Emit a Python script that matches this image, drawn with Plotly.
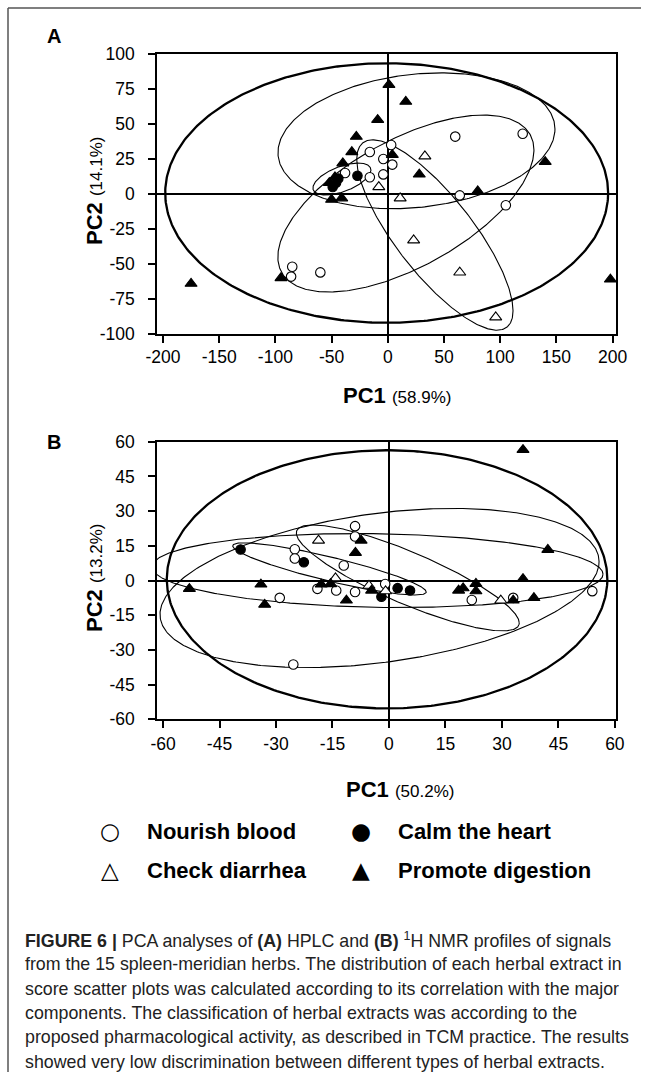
import numpy as np
import plotly.graph_objects as go

# canvas kept narrow enough to sit inside the viewport next to its scrollbar
W, H = 641, 1078
FONT = "Liberation Sans, Arial, sans-serif"

# ---------------- Panel A: HPLC score plot ----------------
a_nourish_x = [60, 120, 3, -4, 4, -4, -16, -16, 64, 105, -60, -85, -86, -38]
a_nourish_y = [41, 43, 35, 25, 21, 14, 30, 12, -1, -8, -56, -52, -59, 15]
a_calm_x = [-27, -49, -46, -44]
a_calm_y = [13, 5, 8, 11]
a_check_x = [33, -8, 11, 23, 64, 96]
a_check_y = [27, 5, -3, -33, -56, -88]
a_promote_x = [1, 16, -9, -28, -32, -40, 140, 28, 4, 80, 198, -50, -41, -95, -175, -47, -52]
a_promote_y = [78, 66, 53, 41, 30, 22, 23, 14, 28, 2, -61, -4, -3, -60, -64, 12, 8]

# confidence ellipses: overall, promote, nourish, check, calm
# x = cx + rx*cos(t), y = cy + ry*cos(t - phase)
a_ell_cx = [-1, 25.5, 16.1, 41.9, -40.8]
a_ell_cy = [0.7, 38, -6.8, -29.3, 10.7]
a_ell_rx = [197, 123.2, 113.9, 69.5, 25.8]
a_ell_ry = [92.7, 48.5, 63.2, 68.0, 11.4]
a_ell_phase = [90, 80, 52.8, 142.7, 56]

a_xticks = [-200, -150, -100, -50, 0, 50, 100, 150, 200]
a_yticks = [-100, -75, -50, -25, 0, 25, 50, 75, 100]

# ---------------- Panel B: 1H NMR score plot ----------------
b_nourish_x = [-25, -25, -9, -9, -12, -29, -19, -14, -9, -1, 22, 33, 54, -25.4]
b_nourish_y = [13.5, 9.5, 23.5, 19, 6.5, -7.5, -3.6, -4.3, -5, -1.5, -8.4, -7.5, -4.6, -36.3]
b_calm_x = [-39.4, -22.6, 2.3, 5.6, -2.0]
b_calm_y = [13.4, 7.9, -3.3, -4.3, -7.0]
b_check_x = [-18.7, -14.2, -5.3, -0.9, 29.7]
b_check_y = [17.3, 1.0, -2.2, -4.6, -8.6]
b_promote_x = [35.6, 42.2, 35.6, -53, -34, -33, -18, -15.5, -7.4, -8.9, -4.6, -11.3,
               18.5, 19.7, 23.1, 23.1, 33, 38.5]
b_promote_y = [56.5, 13.3, 0.7, -3.6, -1.7, -10.4, -1.7, -1.5, 17.3, 12, -4.3, -8.6,
               -4.3, -3.3, -1.4, -4.6, -8.6, -7.5]

# overall, nourish, promote, check, calm
b_ell_cx = [-0.5, -2.5, -3.05, 5.0, -15.8]
b_ell_cy = [0.5, -3.24, 4.3, 1.1, 5.0]
b_ell_rx = [58.5, 58.3, 59.9, 29.6, 25.7]
b_ell_ry = [55.8, 34.4, 16.0, 22.9, 11.3]
b_ell_phase = [90, 70.6, 95.7, 148.1, 151.9]

b_xticks = [-60, -45, -30, -15, 0, 15, 30, 45, 60]
b_yticks = [-60, -45, -30, -15, 0, 15, 30, 45, 60]

ell_widths = [2.3, 1.1, 1.1, 1.1, 1.1]

groups = ["Nourish blood", "Calm the heart", "Check diarrhea", "Promote digestion"]
symbols = ["circle", "circle", "triangle-up", "triangle-up"]
sizes = [9.5, 9.5, 10.5, 10.5]
fills = ["white", "black", "white", "black"]


def ellipse(cx, cy, rx, ry, phase_deg, n=400):
    t = np.linspace(0, 2 * np.pi, n)
    return cx + rx * np.cos(t), cy + ry * np.cos(t - np.deg2rad(phase_deg))


fig = go.Figure()


def add_panel(xa, ya, ell, pts):
    for cx, cy, rx, ry, ph, lw in zip(*ell, ell_widths):
        ex, ey = ellipse(cx, cy, rx, ry, ph)
        fig.add_trace(go.Scatter(x=ex, y=ey, mode="lines", xaxis=xa, yaxis=ya,
                                 line=dict(color="black", width=lw),
                                 hoverinfo="skip", showlegend=False))
    for (px, py), name, sym, sz, fc in zip(pts, groups, symbols, sizes, fills):
        fig.add_trace(go.Scatter(x=px, y=py, mode="markers", name=name,
                                 xaxis=xa, yaxis=ya, showlegend=False,
                                 marker=dict(symbol=sym, size=sz, color=fc,
                                             line=dict(color="black", width=1.1))))


add_panel("x", "y",
          (a_ell_cx, a_ell_cy, a_ell_rx, a_ell_ry, a_ell_phase),
          [(a_nourish_x, a_nourish_y), (a_calm_x, a_calm_y),
           (a_check_x, a_check_y), (a_promote_x, a_promote_y)])
add_panel("x2", "y2",
          (b_ell_cx, b_ell_cy, b_ell_rx, b_ell_ry, b_ell_phase),
          [(b_nourish_x, b_nourish_y), (b_calm_x, b_calm_y),
           (b_check_x, b_check_y), (b_promote_x, b_promote_y)])


# pixel -> paper fraction
def px_x(v):
    return v / W


def px_y(v):
    return 1 - v / H


def axis(domain, rng, ticks, anchor, standoff):
    return dict(domain=domain, range=rng, tickvals=ticks,
                ticktext=[str(v) for v in ticks], anchor=anchor,
                showgrid=False, zeroline=True, zerolinecolor="black",
                zerolinewidth=1.6, showline=True, linecolor="black",
                linewidth=1.6, mirror=True, ticks="outside", ticklen=7,
                tickwidth=1.6, tickcolor="black", ticklabelstandoff=standoff,
                tickfont=dict(family=FONT, size=17.5, color="black"),
                fixedrange=True, automargin=False)


x_dom = [px_x(157), px_x(616)]
fig.update_layout(
    width=W, height=H, margin=dict(l=0, r=0, t=0, b=0),
    paper_bgcolor="white", plot_bgcolor="white", showlegend=False,
    xaxis=axis(x_dom, [-205.3, 203], a_xticks, "y", -1),
    yaxis=axis([px_y(334), px_y(54)], [-100, 100], a_yticks, "x", 10),
    xaxis2=axis(x_dom, [-61.6, 60.3], b_xticks, "y2", 1),
    yaxis2=axis([px_y(719.3), px_y(441.7)], [-60, 60], b_yticks, "x2", 10),
)

ann = []


def text(x, y, s, size, xanchor="center", angle=0, color="black", family=FONT):
    ann.append(dict(x=px_x(x), y=px_y(y), xref="paper", yref="paper", text=s,
                    showarrow=False, xanchor=xanchor, yanchor="middle",
                    textangle=angle, font=dict(family=family, size=size, color=color)))


# panel letters
text(54, 36, "<b>A</b>", 20)
text(54, 442, "<b>B</b>", 20)

# axis titles
text(397, 395, "<b>PC1</b> <span style='font-size:17px'>(58.9%)</span>", 22)
text(94, 191, "<b>PC2</b> <span style='font-size:17px'>(14.1%)</span>", 22, angle=-90)
text(400, 789, "<b>PC1</b> <span style='font-size:17px'>(50.2%)</span>", 22)
text(94, 578, "<b>PC2</b> <span style='font-size:17px'>(13.2%)</span>", 22, angle=-90)

# legend
legend_glyphs = ["○", "●", "△", "▲"]
legend_cols = [110, 361]
legend_rows = [831, 870]
for i, (g, name) in enumerate(zip(legend_glyphs, groups)):
    gx = legend_cols[i % 2]
    gy = legend_rows[i // 2]
    text(gx, gy, g, 23, family="DejaVu Sans")
    text(gx + 35, gy, "<b>" + name + "</b>", 22, xanchor="left")

# caption
caption = [
    "<b>FIGURE 6 |</b> PCA analyses of <b>(A)</b> HPLC and <b>(B)</b> <sup>1</sup>H NMR profiles of signals",
    "from the 15 spleen-meridian herbs. The distribution of each herbal extract in",
    "score scatter plots was calculated according to its correlation with the major",
    "components. The classification of herbal extracts was according to the",
    "proposed pharmacological activity, as described in TCM practice. The results",
    "showed very low discrimination between different types of herbal extracts.",
]
for k, line in enumerate(caption):
    text(23, 940 + 24.3 * k, line, 17.8, xanchor="left", color="#222")

fig.update_layout(annotations=ann)

# figure frame (top and left rules)
fig.add_shape(type="line", xref="paper", yref="paper", x0=px_x(8), x1=1,
              y0=px_y(8), y1=px_y(8), line=dict(color="#555", width=1.5))
fig.add_shape(type="line", xref="paper", yref="paper", x0=px_x(8), x1=px_x(8),
              y0=px_y(8), y1=px_y(1072), line=dict(color="#555", width=1.5))

fig.write_html("out.html")
